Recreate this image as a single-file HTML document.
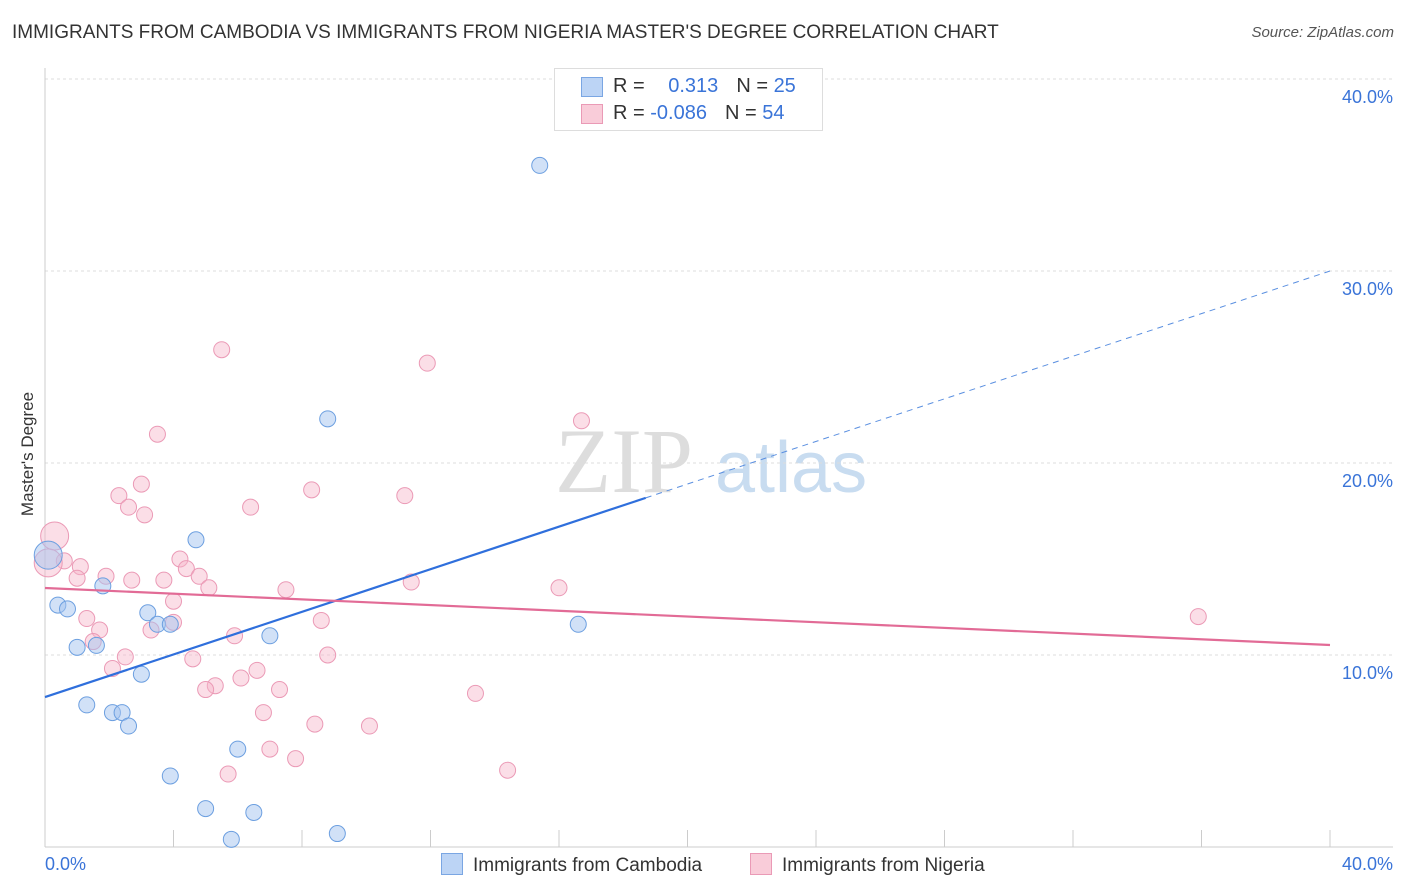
<!DOCTYPE html>
<html><head><meta charset="utf-8">
<style>
body{margin:0;background:#fff;font-family:"Liberation Sans",sans-serif;}
#wrap{position:relative;width:1406px;height:892px;overflow:hidden;}
.t{position:absolute;white-space:nowrap;}
</style></head>
<body>
<div id="wrap">
<div class="t" style="left:12px;top:22px;font-size:19px;color:#333;">IMMIGRANTS FROM CAMBODIA VS IMMIGRANTS FROM NIGERIA MASTER'S DEGREE CORRELATION CHART</div>
<div class="t" style="right:12px;top:24px;font-size:15px;color:#555;font-style:italic;">Source: ZipAtlas.com</div>
<div class="t" style="left:-34px;top:444px;font-size:17px;color:#333;transform:rotate(-90deg);">Master's Degree</div>
<svg id="svg" width="1406" height="892" style="position:absolute;left:0;top:0"></svg>
</div>
<script>
const cambX=[15.4,8.8,4.7,0.1,0.4,0.7,1.8,3.2,3.5,3.9,7.0,1.0,1.6,3.0,1.3,2.1,2.4,2.6,6.0,3.9,5.0,6.5,5.8,9.1,16.6];
const cambY=[35.5,22.3,16.0,15.2,12.6,12.4,13.6,12.2,11.6,11.6,11.0,10.4,10.5,9.0,7.4,7.0,7.0,6.3,5.1,3.7,2.0,1.8,0.4,0.7,11.6];
const nigX=[5.5,11.9,3.5,16.7,3.0,2.3,8.3,11.2,2.6,3.1,6.4,4.2,4.4,4.8,3.7,5.1,7.5,11.4,16.0,4.0,4.0,3.3,8.6,5.9,4.6,8.8,6.6,6.1,5.3,5.0,7.3,13.4,6.8,8.4,10.1,7.0,7.8,5.7,14.4,35.9,0.3,0.6,1.1,1.0,1.9,2.7,1.3,1.7,1.5,2.5,2.1,0.1];
const nigY=[25.9,25.2,21.5,22.2,18.9,18.3,18.6,18.3,17.7,17.3,17.7,15.0,14.5,14.1,13.9,13.5,13.4,13.8,13.5,12.8,11.7,11.3,11.8,11.0,9.8,10.0,9.2,8.8,8.4,8.2,8.2,8.0,7.0,6.4,6.3,5.1,4.6,3.8,4.0,12.0,16.2,14.9,14.6,14.0,14.1,13.9,11.9,11.3,10.7,9.9,9.3,14.8];
const yTicks=[10,20,30,40];
const cambLine=[7.81,30.0];
const nigLine=[13.49,10.52];
const X=v=>45+v*32.125, Y=v=>847-v*19.2;
const svg=document.getElementById('svg');
const NS='http://www.w3.org/2000/svg';
function mk(t,a,p){const e=document.createElementNS(NS,t);for(const k in a)e.setAttribute(k,a[k]);(p||svg).appendChild(e);return e;}
// watermark
let w=mk('text',{x:555,y:492,'font-size':92,fill:'#ddd','font-family':'Liberation Serif,serif'});w.textContent='ZIP';


let w2=mk('text',{x:715,y:492,'font-size':72,fill:'#c8dcf0','font-family':'Liberation Sans,sans-serif'});w2.textContent='atlas';


yTicks.forEach(v=>{
 const g=mk('line',{x1:45,x2:1393,y1:Y(v),y2:Y(v),stroke:'#ddd','stroke-dasharray':'3,3'});
 
 
 const t=mk('text',{x:1393,y:Y(v)+24,'text-anchor':'end','font-size':18,fill:'#3a74d8'});t.textContent=v.toFixed(1)+'%';
 
 
});
const ax=mk('line',{x1:45,x2:45,y1:68,y2:847,stroke:'#ccc'});


const bx=mk('line',{x1:45,x2:1393,y1:847,y2:847,stroke:'#ccc'});


for(let i=0;i<=10;i++){const t=mk('line',{x1:X(i*4),x2:X(i*4),y1:830,y2:847,stroke:'#ccc'});
 
 }
[[0,'start',45,'0.0%'],[40,'end',1393,'40.0%']].forEach(a=>{const t=mk('text',{x:a[2],y:870,'text-anchor':a[1],'font-size':18,fill:'#3a74d8'});t.textContent=a[3];
 
 });
function pts(xs,ys,fill,stroke,name){xs.forEach((x,i)=>{const big=x<0.5&&ys[i]>14.5;
 const c=mk('circle',{cx:X(x),cy:Y(ys[i]),r:big?14:8,fill:fill,stroke:stroke,'stroke-width':1});
 
 });}
pts(nigX,nigY,'rgba(246,182,202,0.45)','#eb9ab6','nigeria-point');
pts(cambX,cambY,'rgba(163,196,240,0.5)','#6c9fe0','cambodia-point');
const bm=18.7;
const cy=v=>cambLine[0]+(cambLine[1]-cambLine[0])*v/40;
const l1=mk('line',{x1:X(0),y1:Y(cy(0)),x2:X(bm),y2:Y(cy(bm)),stroke:'#2f6fdc','stroke-width':2.2});


const l2=mk('line',{x1:X(bm),y1:Y(cy(bm)),x2:X(40),y2:Y(cy(40)),stroke:'#5a8fe0','stroke-width':1,'stroke-dasharray':'6,5'});


const l3=mk('line',{x1:X(0),y1:Y(nigLine[0]),x2:X(40),y2:Y(nigLine[1]),stroke:'#e26b96','stroke-width':2.2});


</script>
<div style="position:absolute;left:554px;top:68px;width:267px;height:61px;border:1px solid #ddd;background:#fff;font-size:20px;">
 <div style="position:absolute;left:26px;top:8px;width:20px;height:18px;background:#bcd4f5;border:1px solid #7aa6e3;"></div>
 <div class="t" style="left:58px;top:6px;color:#333;">R = <span style="color:#3a74d8;margin-left:18px">0.313</span><span style="margin-left:18px">N = </span><span style="color:#3a74d8">25</span></div>
 <div style="position:absolute;left:26px;top:35px;width:20px;height:18px;background:#f9ccd9;border:1px solid #ea9ab6;"></div>
 <div class="t" style="left:58px;top:33px;color:#333;">R = <span style="color:#3a74d8">-0.086</span><span style="margin-left:18px">N = </span><span style="color:#3a74d8">54</span></div>
</div>
<div style="position:absolute;left:441px;top:853px;font-size:19px;color:#333;white-space:nowrap;">
 <span style="display:inline-block;width:20px;height:20px;background:#bcd4f5;border:1px solid #7aa6e3;vertical-align:-4px;margin-right:10px"></span>Immigrants from Cambodia</div>
<div style="position:absolute;left:750px;top:853px;font-size:19px;color:#333;white-space:nowrap;">
 <span style="display:inline-block;width:20px;height:20px;background:#f9ccd9;border:1px solid #ea9ab6;vertical-align:-4px;margin-right:10px"></span>Immigrants from Nigeria</div>
</body></html>
